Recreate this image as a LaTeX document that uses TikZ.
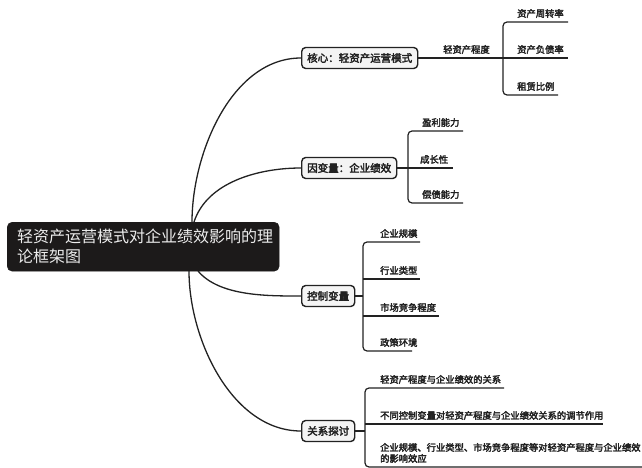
\documentclass[tikz,border=0pt]{standalone}
\usepackage{fontspec}
\setmainfont{Noto Sans CJK SC}[AutoFakeBold=3]
\definecolor{ink}{HTML}{222222}
\definecolor{rootfill}{HTML}{1C1A1A}
\definecolor{rootText}{HTML}{EDEDED}
\definecolor{boxfill}{HTML}{F4F4F4}
\begin{document}
\begin{tikzpicture}[x=1pt,y=-1pt,
  rootbox/.style={draw=rootfill,fill=rootfill,rounded corners=5pt,text=rootText,
    font=\fontsize{16}{20}\selectfont,align=left,text width=252pt,inner xsep=10pt,
    inner ysep=0pt,minimum height=49pt,anchor=north west},
  branchbox/.style={draw=ink,fill=boxfill,line width=1.4pt,rounded corners=4pt,
    font=\fontsize{10.5}{12}\selectfont\bfseries,inner xsep=5.5pt,inner ysep=0pt,
    minimum height=21pt,anchor=west,text=ink},
  leaf/.style={font=\fontsize{9.3}{11}\selectfont\bfseries,inner sep=0pt,anchor=south west,text=ink,align=left},
  conn/.style={draw=ink,line width=1.3pt},
  twig/.style={draw=ink,line width=1.2pt,rounded corners=4pt},
]
\useasboundingbox (0,0) rectangle (642,468);

% root
\node[rootbox] (root) at (7,222) {轻资产运营模式对企业绩效影响的理\\论框架图};

% branch boxes
\node[branchbox] (core) at (301,58) {核心：轻资产运营模式};
\node[branchbox] (dep) at (301,168) {因变量：企业绩效};
\node[branchbox] (ctrl) at (301,296) {控制变量};
\node[branchbox] (rel) at (301,431) {关系探讨};

% root connectors
\coordinate (r1) at (192,222);
\coordinate (r2) at (194,222);
\coordinate (r3) at (198,271);
\coordinate (r4) at (189,271);
\draw[conn] (r1) to[out=90,in=180,looseness=0.9] (core.west);
\draw[conn] (r2) to[out=72,in=180,looseness=0.9] (dep.west);
\draw[conn] (r3) to[out=-50,in=180,looseness=0.8] (ctrl.west);
\draw[conn] (r4) to[out=-90,in=180,looseness=0.9] (rel.west);

% core branch
\coordinate (k1) at (503,22);  \coordinate (k1e) at (568,22);
\coordinate (k2e) at (568,58);
\coordinate (k3) at (503,95);  \coordinate (k3e) at (558,95);
\draw[twig] (core.east) -- (k2e);
\draw[twig] (k1e) -- (k1) -- (k3) -- (k3e);
\node[leaf] (kd) at (443,54) {轻资产程度};
\node[leaf] (ka) at (517,18) {资产周转率};
\node[leaf] (kb) at (517,54) {资产负债率};
\node[leaf] (kc) at (517,91) {租赁比例};

% dependent branch
\coordinate (d1) at (408,131); \coordinate (d1e) at (463,131);
\coordinate (d2e) at (453,168);
\coordinate (d3) at (408,203); \coordinate (d3e) at (463,203);
\draw[twig] (dep.east) -- (d2e);
\draw[twig] (d1e) -- (d1) -- (d3) -- (d3e);
\node[leaf] (da) at (422,127) {盈利能力};
\node[leaf] (db) at (420,164) {成长性};
\node[leaf] (dc) at (422,199) {偿债能力};

% control branch
\coordinate (c0) at (363,296);
\coordinate (c1) at (363,242); \coordinate (c1e) at (420,242);
\coordinate (c2) at (363,279); \coordinate (c2e) at (420,279);
\coordinate (c3) at (363,316); \coordinate (c3e) at (439,316);
\coordinate (c4) at (363,351); \coordinate (c4e) at (412,351);
\draw[twig] (ctrl.east) -- (c0);
\draw[twig] (c1e) -- (c1) -- (c4) -- (c4e);
\draw[twig] (c2) -- (c2e);
\draw[twig] (c3) -- (c3e);
\node[leaf] (ca) at (380,238) {企业规模};
\node[leaf] (cb) at (380,275) {行业类型};
\node[leaf] (cc) at (380,312) {市场竞争程度};
\node[leaf] (cd) at (380,347) {政策环境};

% relation branch
\coordinate (q0) at (365,431);
\coordinate (q1) at (365,388); \coordinate (q1e) at (504,388);
\coordinate (q2) at (365,424); \coordinate (q2e) at (603,424);
\coordinate (q3) at (365,467); \coordinate (q3e) at (642,467);
\draw[twig] (rel.east) -- (q0);
\draw[twig] (q1e) -- (q1) -- (q3) -- (q3e);
\draw[twig] (q2) -- (q2e);
\node[leaf] (qa) at (380,384) {轻资产程度与企业绩效的关系};
\node[leaf] (qb) at (380,420) {不同控制变量对轻资产程度与企业绩效关系的调节作用};
\node[leaf] (qc) at (380,463) {企业规模、行业类型、市场竞争程度等对轻资产程度与企业绩效\\的影响效应};
\end{tikzpicture}
\end{document}
